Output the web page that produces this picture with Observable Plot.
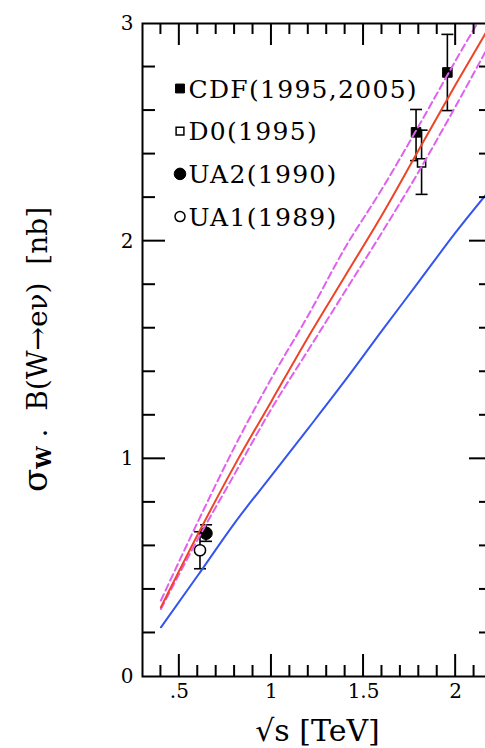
<!DOCTYPE html>
<html><head><meta charset="utf-8">
<script src="https://cdn.jsdelivr.net/npm/d3@7"></script>
<script src="https://cdn.jsdelivr.net/npm/@observablehq/plot@0.6"></script>
<style>
html,body{margin:0;padding:0;background:#fff;overflow:hidden}
#wrap{width:485px;height:748px;overflow:hidden;position:relative;background:#fff}
#wrap svg{max-width:none !important;width:492px;height:748px;display:block}
</style></head><body><div id="wrap"></div>
<script>
// theory curves (sigma_W * B in nb) vs sqrt(s) in TeV
const sqrtS      = [0.4, 0.6, 0.8, 1.0, 1.2, 1.4, 1.6, 1.8, 2.0, 2.2];
const sigmaRed   = [0.318, 0.652, 0.97, 1.265, 1.56, 1.84, 2.12, 2.42, 2.72, 3.01];
const sigmaUpper = [0.349, 0.71, 1.055, 1.37, 1.66, 1.97, 2.24, 2.53, 2.83, 3.12];
const sigmaLower = [0.31, 0.63, 0.93, 1.23, 1.50, 1.77, 2.04, 2.32, 2.62, 2.93];
const sigmaBlue  = [0.226, 0.464, 0.705, 0.923, 1.14, 1.36, 1.589, 1.814, 2.04, 2.25];

// measurements
const expName  = ["UA1", "UA2", "CDF", "D0", "CDF"];
const expSqrtS = [0.612, 0.645, 1.785, 1.815, 1.955];
const expSigma = [0.58, 0.658, 2.50, 2.36, 2.775];
const expLow   = [0.495, 0.621, 2.37, 2.215, 2.60];
const expHigh  = [0.665, 0.697, 2.605, 2.51, 2.95];

const legendLabels = ["CDF(1995,2005)", "D0(1995)", "UA2(1990)", "UA1(1989)"];
const legendExp    = ["CDF", "D0", "UA2", "UA1"];

// ticks
const xMajor = [0.5, 1, 1.5, 2];
const xMinor = [0.4, 0.6, 0.7, 0.8, 0.9, 1.1, 1.2, 1.3, 1.4, 1.6, 1.7, 1.8, 1.9, 2.1];
const yMajor = [0, 1, 2, 3];
const yMinor = [0.2, 0.4, 0.6, 0.8, 1.2, 1.4, 1.6, 1.8, 2.2, 2.4, 2.6, 2.8];
const yInner = [1, 2];

const xDomain = [0.3, 2.2], yDomain = [0, 3];

{
  const W = 492, H = 748, mL = 142, mR = 0, mT = 23, mB = 72;
  const innerH = H - mT - mB;

  const curveRows = sqrtS.map((x, i) => ({x, red: sigmaRed[i], up: sigmaUpper[i], lo: sigmaLower[i], blue: sigmaBlue[i]}));
  const pointRows = expName.map((e, i) => ({exp: e, s: expSqrtS[i], v: expSigma[i], lo: expLow[i], hi: expHigh[i]}));

  const markerStyle = {
    CDF: {symbol: "square", r: 5.4, fill: "black", stroke: "black", strokeWidth: 1},
    D0:  {symbol: "square", r: 4.6, fill: "white", stroke: "black", strokeWidth: 1.5},
    UA2: {symbol: "circle", r: 6.2, fill: "black", stroke: "black", strokeWidth: 1},
    UA1: {symbol: "circle", r: 5.6, fill: "white", stroke: "black", strokeWidth: 1.5}
  };
  const keyStyle = {
    CDF: {symbol: "square", r: 5.0, fill: "black", stroke: "black", strokeWidth: 1},
    D0:  {symbol: "square", r: 4.4, fill: "white", stroke: "black", strokeWidth: 1.5},
    UA2: {symbol: "circle", r: 5.8, fill: "black", stroke: "black", strokeWidth: 1},
    UA1: {symbol: "circle", r: 5.0, fill: "white", stroke: "black", strokeWidth: 1.5}
  };

  const capSym = {draw(ctx, size) { const w = Math.sqrt(size / Math.PI); ctx.moveTo(-w, 0); ctx.lineTo(w, 0); }};

  const markList = [
    Plot.axisX({ticks: xMajor.slice(), tickSize: 0, tickPadding: 7, fontSize: 20, label: null,
      tickFormat: d => String(d).replace(/^0\./, ".")}),
    Plot.axisY({ticks: yMajor.slice(), tickSize: 0, tickPadding: 9, fontSize: 20, label: null,
      tickFormat: d => String(d)}),
    // error bars
    Plot.ruleX(pointRows, {x: "s", y1: "lo", y2: "hi", stroke: "black", strokeWidth: 1.6}),
    Plot.dot(pointRows, {x: "s", y: "lo", symbol: capSym, r: 6, fill: "none", stroke: "black", strokeWidth: 1.6}),
    Plot.dot(pointRows, {x: "s", y: "hi", symbol: capSym, r: 6, fill: "none", stroke: "black", strokeWidth: 1.6}),
    // points
    ...["UA1", "UA2", "D0", "CDF"].map(e => Plot.dot(pointRows.filter(d => d.exp === e), {x: "s", y: "v", ...markerStyle[e]})),
    // curves
    Plot.line(curveRows, {x: "x", y: "blue", stroke: "#3355ee", strokeWidth: 2, curve: "monotone-x", clip: true}),
    Plot.line(curveRows, {x: "x", y: "up", stroke: "#e060f0", strokeWidth: 2, strokeDasharray: "7,4", curve: "monotone-x", clip: true}),
    Plot.line(curveRows, {x: "x", y: "lo", stroke: "#e060f0", strokeWidth: 2, strokeDasharray: "7,4", curve: "monotone-x", clip: true}),
    Plot.line(curveRows, {x: "x", y: "red", stroke: "#ee4426", strokeWidth: 2, curve: "monotone-x", clip: true}),
    // legend
    ...legendExp.map((e, i) => Plot.dot([null], {frameAnchor: "top-left", dx: 37.5, dy: 65 + i * 42.7, ...keyStyle[e]})),
    ...legendLabels.map((t, i) => Plot.text([t], {text: d => d, frameAnchor: "top-left", dx: 46, dy: 74 + i * 42.7,
      textAnchor: "start", lineAnchor: "bottom", fontSize: 25, fill: "black"})),
    // x title
    Plot.text(["√s [TeV]"], {text: d => d, frameAnchor: "bottom", dy: 64, lineAnchor: "bottom", fontSize: 30, fill: "black"}),
    Plot.frame({stroke: "black", strokeWidth: 2, fill: "none"})
  ];

  const chart = Plot.plot({
    width: W, height: H,
    marginLeft: mL, marginRight: mR, marginTop: mT, marginBottom: mB,
    x: {domain: xDomain, label: null},
    y: {domain: yDomain, label: null},
    style: {fontFamily: "'DejaVu Serif', serif", background: "white", color: "black", maxWidth: "none"},
    marks: markList
  });

  const sel = d3.select(chart);
  sel.selectAll("text").filter(function() { return legendLabels.includes(this.textContent); })
    .attr("letter-spacing", "1.3px");

  // y title
  const ytl = sel.append("text")
    .attr("transform", `translate(47,${mT + innerH / 2}) rotate(-90)`)
    .attr("text-anchor", "middle")
    .attr("font-size", 28)
    .attr("fill", "black")
    .attr("font-family", "'DejaVu Serif', serif")
    .attr("xml:space", "preserve");
  ytl.append("tspan").attr("font-size", 34).text("σ");
  ytl.append("tspan").attr("font-size", 20).attr("font-weight", "bold").attr("dy", 4).text("W");
  ytl.append("tspan").attr("dy", -4).text(" .  B(W→eν)  [nb]");

  const wrap = document.getElementById("wrap");
  wrap.appendChild(chart);

  // inward ticks on all four sides, positioned with Plot's own scales, in a layer above the chart
  const sx = chart.scale("x"), sy = chart.scale("y");
  const layer = d3.select(wrap).append("svg")
    .attr("width", W).attr("height", H)
    .style("position", "absolute").style("left", "0").style("top", "0")
    .style("background", "none").style("pointer-events", "none");
  const g = layer.append("g").attr("stroke", "black").attr("stroke-width", 2).attr("fill", "none");
  const x0 = sx.apply(xDomain[0]), x1 = sx.apply(xDomain[1]);
  const y0 = sy.apply(yDomain[0]), y1 = sy.apply(yDomain[1]);
  const vt = (vals, len) => vals.forEach(v => {
    const px = sx.apply(v);
    g.append("line").attr("x1", px).attr("x2", px).attr("y1", y0).attr("y2", y0 - len);
    g.append("line").attr("x1", px).attr("x2", px).attr("y1", y1).attr("y2", y1 + len);
  });
  const ht = (vals, len) => vals.forEach(v => {
    const py = sy.apply(v);
    g.append("line").attr("y1", py).attr("y2", py).attr("x1", x0).attr("x2", x0 + len);
    g.append("line").attr("y1", py).attr("y2", py).attr("x1", x1).attr("x2", x1 - len);
  });
  vt(xMinor, 11); vt(xMajor, 22); ht(yMinor, 13); ht(yInner, 23);
}
</script>
</body></html>
